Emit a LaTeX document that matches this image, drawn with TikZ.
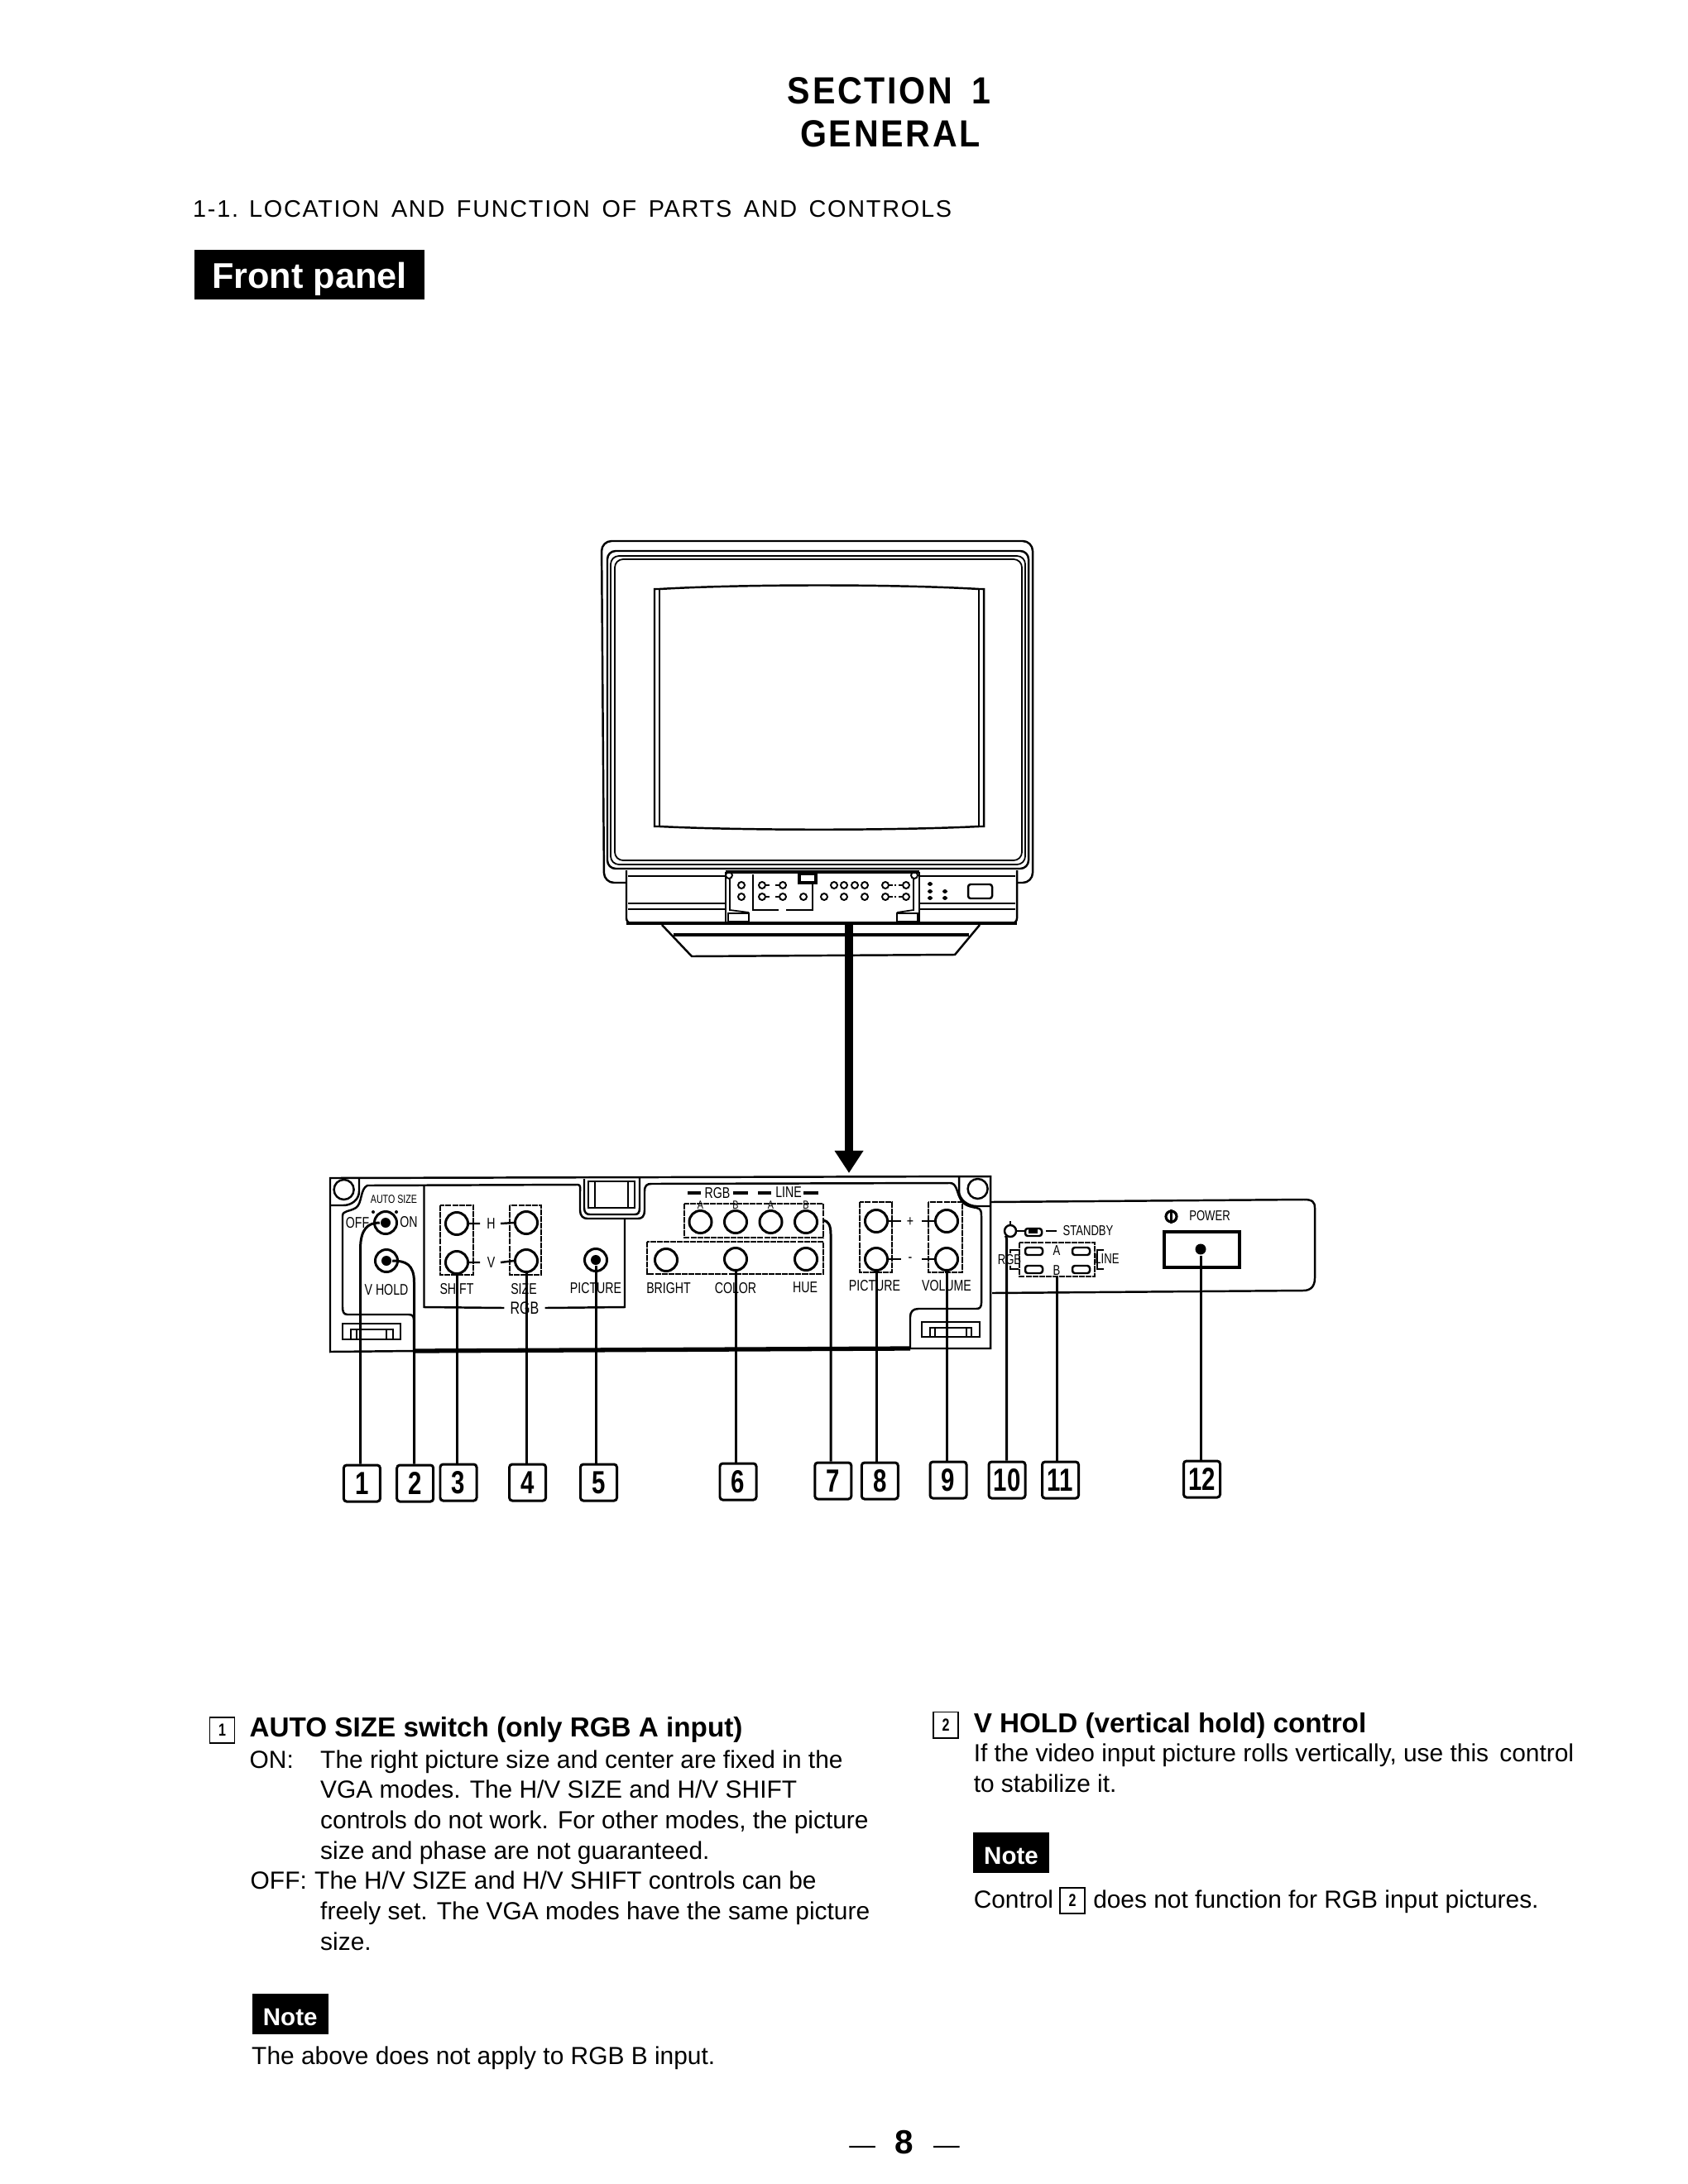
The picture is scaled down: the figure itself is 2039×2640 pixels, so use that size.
\documentclass[tikz,border=0pt]{standalone}
\usepackage{fontspec}
\setmainfont{Liberation Sans}
\newfontfamily\narrowfont[FakeStretch=0.76]{Liberation Sans}
\newfontfamily\spacedfont[LetterSpace=6]{Liberation Sans}
\newfontfamily\titlefont[FakeStretch=0.9, LetterSpace=6]{Liberation Sans}
\usetikzlibrary{arrows.meta}

\begin{document}
\begin{tikzpicture}[x=.01cm, y=-.01cm, line width=.7pt,
      every node/.style = {inner sep=0pt, align=center},
      knob/.style = {shape=circle, draw, line width=.85pt, minimum size=.27cm},
      minikn/.style = {shape=circle, draw, line width=.55pt, minimum size=.08cm},
      dotm/.style = {shape=circle, fill=black, minimum size=.12cm},
      label/.style = {font=\narrowfont\fontsize{5.3}{6}\selectfont},
      tinylabel/.style = {font=\narrowfont\fontsize{4}{5}\selectfont},
      numbox/.style = {shape=rectangle, draw, line width=.85pt, rounded corners=1pt, minimum width=.44cm,
        minimum height=.44cm, font=\narrowfont\bfseries\fontsize{11}{12}\selectfont},
      smallbox/.style = {shape=rectangle, draw, line width=.55pt, minimum width=.3cm,
        minimum height=.31cm, font=\narrowfont\bfseries\fontsize{6}{7}\selectfont},
      body/.style = {anchor=base west, font=\fontsize{8.5}{10}\selectfont},
      heading/.style = {anchor=base west, font=\bfseries\fontsize{9.45}{11}\selectfont},
      notebox/.style = {shape=rectangle, fill=black, text=white, minimum width=.92cm, minimum height=.49cm,
        text height=.28cm, text depth=0pt, font=\bfseries\fontsize{8.4}{10}\selectfont},
      leader/.style = {line width=.85pt},
      dotbox/.style = {dash pattern=on 2pt off .3pt, line width=.8pt}]
    \path[use as bounding box] (0,0) rectangle (2039,2640);

    % page titles
    \node (section) at (1074.5,110) {\titlefont\bfseries\fontsize{13}{14}\selectfont SECTION\,\,\,1};
    \node (general) at (1076,162) {\titlefont\bfseries\fontsize{13}{14}\selectfont GENERAL};
    \node[anchor=base west] (location) at (232,263) {\spacedfont\fontsize{8.2}{10}\selectfont 1-1. LOCATION\, AND\, FUNCTION\, OF\, PARTS\, AND\, CONTROLS};
    \node[shape=rectangle, fill=black, text=white, minimum width=2.78cm, minimum height=.6cm,
      text height=.32cm, text depth=0pt, font=\bfseries\fontsize{12.3}{14}\selectfont] (front) at (374,332) {Front panel};

    % monitor
    \draw[rounded corners=1.2mm] (757,1067) -- (730,1067) -- (727,654) -- (1248,654) -- (1248,1067) -- (1229,1067);
    \draw[rounded corners=1mm] (734,666) rectangle (1243,1050);
    \draw[rounded corners=1mm, line width=.5pt] (738,672) rectangle (1239,1045);
    \draw[rounded corners=1mm, line width=.5pt] (743,676) rectangle (1235,1040);
    \draw (797,712) .. controls (900,706) and (1080,706) .. (1183,712) -- (1189,712) -- (1189,999) -- (1183,999)
      .. controls (1080,1004) and (900,1004) .. (797,999) -- (791,999) -- (791,712) -- cycle;
    \draw (797,712) -- (797,999);
    \draw (1183,712) -- (1183,999);
    \draw[rounded corners=.6mm] (757,1052) -- (757,1116) -- (1229,1116) -- (1229,1052);
    \draw[line width=.5pt] (759,1059) -- (877,1059) (759,1092) -- (877,1092) (759,1099) -- (877,1099);
    \draw[line width=.5pt] (1111,1059) -- (1227,1059) (1111,1092) -- (1227,1092) (1111,1099) -- (1227,1099);
    \draw[line width=1.1pt] (877,1054) -- (1111,1054);
    \draw[line width=1.1pt] (757,1116) -- (1229,1116);
    \draw (877,1054) -- (877,1116) (1111,1054) -- (1111,1116);
    \draw[line width=.5pt] (882,1062) -- (882,1100) -- (905,1103);
    \draw[line width=.5pt] (1104,1062) -- (1104,1100) -- (1084,1103);
    \draw[line width=.5pt] (910,1057) -- (910,1100) -- (941,1100) (950,1100) -- (982,1100) -- (982,1067);
    \draw[line width=.9pt, fill=white] (966,1056) rectangle (986,1067);
    \draw[line width=.5pt] (880,1104) rectangle (905,1114);
    \draw[line width=.5pt] (1084,1104) rectangle (1109,1114);
    \node[minikn] (minitl) at (881,1058) {};
    \node[minikn] (minitr) at (1105,1058) {};
    \node[minikn] (mini1) at (896,1070) {};
    \node[minikn] (mini2) at (921,1070) {};
    \node[minikn] (mini3) at (946,1070) {};
    \node[minikn] (mini4) at (1008,1070) {};
    \node[minikn] (mini5) at (1020,1070) {};
    \node[minikn] (mini6) at (1033,1070) {};
    \node[minikn] (mini7) at (1045,1070) {};
    \node[minikn] (mini8) at (1070,1070) {};
    \node[minikn] (mini9) at (1095,1070) {};
    \node[minikn] (mini10) at (896,1084) {};
    \node[minikn] (mini11) at (921,1084) {};
    \node[minikn] (mini12) at (946,1084) {};
    \node[minikn] (mini13) at (971,1084) {};
    \node[minikn] (mini14) at (996,1084) {};
    \node[minikn] (mini15) at (1020,1084) {};
    \node[minikn] (mini16) at (1045,1084) {};
    \node[minikn] (mini17) at (1070,1084) {};
    \node[minikn] (mini18) at (1095,1084) {};
    \draw (mini2.east) -- ++(4,0) (mini3.west) -- ++(-4,0);
    \draw (mini11.east) -- ++(4,0) (mini12.west) -- ++(-4,0);
    \draw (mini8.east) -- ++(4,0) (mini9.west) -- ++(-4,0) (1081,1070) -- (1083,1070);
    \draw (mini17.east) -- ++(4,0) (mini18.west) -- ++(-4,0) (1081,1084) -- (1083,1084);
    \fill[rounded corners=.3mm] (1121,1066) rectangle (1127,1071) (1121,1075) rectangle (1127,1080) (1121,1083) rectangle (1127,1088);
    \fill[rounded corners=.3mm] (1139,1075) rectangle (1145,1080) (1139,1083) rectangle (1145,1088);
    \draw[rounded corners=.3mm] (1170,1069) rectangle (1199,1086);
    \draw (800,1118) -- (836,1156) -- (1154,1154) -- (1184,1118);
    \draw[line width=.5pt] (814,1129) -- (1171,1129) (814,1131) -- (1171,1131);

    % arrow from the monitor down to the panel
    \coordinate (monitor) at (1026,1116);
    \coordinate (arrowend) at (1026,1418);
    \draw[line width=3pt, -{Triangle[length=.27cm, width=.33cm]}] (monitor) -- (arrowend);

    % front panel outline
    \draw (500,1633) -- (399,1634) -- (399,1424) -- (1197,1422) -- (1197,1630) -- (1100,1630);
    \draw[line width=1.5pt] (500,1633) -- (1100,1630);
    \draw (434,1424) -- (434,1440) .. controls (434,1450) and (425,1457) .. (415,1457) -- (399,1457);
    \draw (1159,1422) -- (1159,1440) .. controls (1159,1450) and (1170,1458) .. (1180,1458) -- (1197,1458);
    \node[shape=circle, draw, minimum size=.24cm] (cornerl) at (415.6,1438) {};
    \node[shape=circle, draw, minimum size=.24cm] (cornerr) at (1181.6,1437) {};
    \draw (500,1633) -- (500,1595) .. controls (500,1591) and (498,1589) .. (494,1589) -- (420,1589)
      .. controls (415,1589) and (414,1585) .. (414,1580) -- (414,1470) .. controls (414,1463) and (422,1465) .. (430,1460)
      .. controls (438,1455) and (435,1437) .. (444,1433) -- (698,1432)
      .. controls (702,1432) and (701,1436) .. (701,1440) -- (701,1463) .. controls (701,1470) and (705,1473) .. (710,1473)
      -- (771,1473) .. controls (776,1473) and (779,1470) .. (779,1463) -- (779,1440) .. controls (779,1433) and (782,1431) .. (787,1431)
      -- (1148,1430) .. controls (1156,1430) and (1156,1440) .. (1160,1448) .. controls (1164,1458) and (1175,1459) .. (1180,1460)
      .. controls (1186,1461) and (1186,1465) .. (1186,1470) -- (1186,1575) .. controls (1186,1580) and (1184,1582) .. (1180,1582)
      -- (1110,1582) .. controls (1103,1582) and (1100,1586) .. (1100,1592) -- (1100,1630);
    \draw (706,1425) -- (706,1460) .. controls (706,1466) and (709,1468) .. (713,1468) -- (767,1468)
      .. controls (771,1468) and (773,1466) .. (773,1460) -- (773,1424);
    \draw (711,1428) rectangle (767,1460);
    \draw (719,1428) -- (719,1460) (759,1428) -- (759,1460);
    \draw (414,1600) rectangle (484,1619);
    \draw (424,1619) -- (424,1607) -- (475,1607) -- (475,1619) (431,1607) -- (431,1619) (467,1607) -- (467,1619);
    \draw (1114,1598) rectangle (1184,1616);
    \draw (1124,1616) -- (1124,1605) -- (1174,1605) -- (1174,1616) (1130,1605) -- (1130,1616) (1168,1605) -- (1168,1616);

    % RGB group frame
    \node[label, font=\narrowfont\fontsize{6}{7}\selectfont] (rgbframe) at (634,1581) {RGB};
    \draw (rgbframe.west) ++(-6,0) -- (512.5,1580) -- (512.5,1433);
    \draw (rgbframe.east) ++(6,0) -- (755,1580) -- (755,1473);

    % left controls
    \node[tinylabel] (autosize) at (476,1450) {AUTO SIZE};
    \node[label] (off) at (432,1478) {OFF};
    \node[label] (on) at (494,1477) {ON};
    \node[knob] (autoknob) at (466,1478) {};
    \node[dotm] (autodot) at (466,1478) {};
    \node[shape=circle, fill=black, minimum size=.04cm] (autol) at (451,1465) {};
    \node[shape=circle, fill=black, minimum size=.04cm] (autor) at (479,1465) {};
    \node[knob] (vholdknob) at (467,1524) {};
    \node[dotm] (vholddot) at (467,1524) {};
    \node[label] (vhold) at (467,1559) {V HOLD};

    % shift and size
    \draw[dotbox] (532,1457) rectangle (572,1541);
    \draw[dotbox] (616,1457) rectangle (654,1541);
    \node[knob] (shifth) at (552,1479) {};
    \node[knob] (shiftv) at (552,1526) {};
    \node[knob] (sizeh) at (636,1478) {};
    \node[knob] (sizev) at (636,1524) {};
    \node[label] (hlabel) at (593.5,1479) {H};
    \node[label] (vlabel) at (593.5,1526) {V};
    \draw (shifth.east) -- (hlabel.west -| 580,0) (hlabel.east -| 605,0) -- (sizeh.west);
    \draw (shiftv.east) -- (vlabel.west -| 580,0) (vlabel.east -| 605,0) -- (sizev.west);
    \node[label] (shift) at (552,1558) {SHIFT};
    \node[label] (size) at (633,1558) {SIZE};
    \node[knob] (rgbpic) at (720,1523) {};
    \node[dotm] (rgbpicdot) at (720,1523) {};
    \node[label] (rgbpiclabel) at (720,1557) {PICTURE};

    % input buttons
    \node[label] (rgbtop) at (867,1442) {RGB};
    \node[label] (linetop) at (953,1441) {LINE};
    \draw[line width=1.2pt] (831,1442) -- (847,1442) (886,1442) -- (904,1442) (916,1442) -- (932,1442) (971,1442) -- (989,1442);
    \draw[dotbox] (827,1455) rectangle (995,1496);
    \node[knob] (rgba) at (846.5,1477) {};
    \node[knob] (rgbb) at (889,1477) {};
    \node[knob] (linea) at (931.5,1477) {};
    \node[knob] (lineb) at (974,1477) {};
    \node[tinylabel] (rgbalabel) at (846.5,1457) {A};
    \node[tinylabel] (rgbblabel) at (889,1457) {B};
    \node[tinylabel] (linealabel) at (931.5,1457) {A};
    \node[tinylabel] (lineblabel) at (974,1457) {B};

    % picture adjustments
    \draw[dotbox] (782,1501) rectangle (995,1540);
    \node[knob] (bright) at (805,1523) {};
    \node[knob] (color) at (889,1522) {};
    \node[knob] (hue) at (974,1522) {};
    \node[label] (brightlabel) at (808,1557) {BRIGHT};
    \node[label] (colorlabel) at (889,1557) {COLOR};
    \node[label] (huelabel) at (973,1556) {HUE};

    % picture and volume
    \draw[dotbox] (1039,1453) rectangle (1078,1538);
    \draw[dotbox] (1122,1453) rectangle (1163,1538);
    \node[knob] (pictp) at (1059,1476) {};
    \node[knob] (pictm) at (1059,1522) {};
    \node[knob] (volp) at (1144,1476) {};
    \node[knob] (volm) at (1144,1522) {};
    \node[label] (plus) at (1100,1477) {+};
    \node[label] (minus) at (1100,1523) {-};
    \draw (pictp.east) -- ++(15,0) (volp.west) -- ++(-15,0);
    \draw (pictm.east) -- ++(15,0) (volm.west) -- ++(-15,0);
    \node[label] (pictlabel) at (1057,1554) {PICTURE};
    \node[label] (vollabel) at (1144,1554) {VOLUME};

    % right side of the panel
    \draw (1197,1453) -- (1576,1450) .. controls (1586,1450) and (1589,1453) .. (1589,1460) -- (1589,1545)
      .. controls (1589,1555) and (1584,1560) .. (1575,1560) -- (1199,1563);
    \node[shape=circle, draw, minimum size=.14cm] (stby) at (1221,1488) {};
    \draw (stby.north) -- ++(0,-4);
    \draw[rounded corners=.3mm] (1239,1485) rectangle (1259,1494);
    \fill (1243,1486) rectangle (1254,1491);
    \draw (stby.east) -- (1239,1488);
    \draw (1264,1488) -- (1277,1488);
    \node[tinylabel, font=\narrowfont\fontsize{4.9}{6}\selectfont] (standby) at (1315,1488) {STANDBY};
    \draw[dotbox] (1232,1502) rectangle (1323,1543);
    \draw[rounded corners=.3mm] (1239,1508) rectangle (1260,1517) (1296,1508) rectangle (1317,1517);
    \draw[rounded corners=.3mm] (1239,1530) rectangle (1260,1539) (1296,1530) rectangle (1317,1539);
    \node[tinylabel, font=\narrowfont\fontsize{4.9}{6}\selectfont] (sela) at (1277,1512) {A};
    \node[tinylabel, font=\narrowfont\fontsize{4.9}{6}\selectfont] (selb) at (1277,1536) {B};
    \node[tinylabel, font=\narrowfont\fontsize{4.9}{6}\selectfont] (selrgb) at (1220,1523) {RGB};
    \node[tinylabel, font=\narrowfont\fontsize{4.9}{6}\selectfont] (selline) at (1338,1522) {LINE};
    \draw[line width=.5pt] (1231,1511) -- (1221,1511) -- (1221,1515) (1221,1530) -- (1221,1534) -- (1231,1534);
    \draw[line width=.5pt] (1325,1511) -- (1334,1511) (1326,1511) -- (1326,1534) (1325,1534) -- (1334,1534);
    \node[shape=circle, draw, line width=.9pt, minimum size=.13cm] (powersym) at (1415.5,1470.5) {};
    \draw[line width=.9pt] (powersym.north) -- (powersym.south);
    \node[tinylabel, font=\narrowfont\fontsize{4.9}{6}\selectfont] (power) at (1462,1470) {POWER};
    \draw[line width=.9pt] (1407,1489) rectangle (1498,1532);
    \node[dotm, minimum size=.13cm] (powerdot) at (1451,1510) {};

    % number boxes
    \node[numbox] (n1) at (437.4,1793) {1};
    \node[numbox] (n2) at (501.7,1793) {2};
    \node[numbox] (n3) at (554,1792) {3};
    \node[numbox] (n4) at (637.6,1792) {4};
    \node[numbox] (n5) at (723.5,1792) {5};
    \node[numbox] (n6) at (892,1791) {6};
    \node[numbox] (n7) at (1006.8,1790) {7};
    \node[numbox] (n8) at (1063.3,1790) {8};
    \node[numbox] (n9) at (1146,1789) {9};
    \node[numbox] (n10) at (1217,1789) {10};
    \node[numbox] (n11) at (1281.5,1789) {11};
    \node[numbox] (n12) at (1452.5,1788) {12};

    % leader lines
    \coordinate (bend1) at (435.5,1510);
    \coordinate (bend2) at (500.5,1550);
    \coordinate (bend7) at (1004,1492);
    \coordinate (bend10) at (1216.5,1505);
    \draw[leader] (autodot) .. controls (445,1478) and (435.5,1485) .. (bend1) -- (bend1 |- n1.north);
    \draw[leader] (vholddot) .. controls (490,1524) and (500.5,1528) .. (bend2) -- (bend2 |- n2.north);
    \draw[leader] (shiftv.south) -- (shiftv.south |- n3.north);
    \draw[leader] (sizev.south) -- (sizev.south |- n4.north);
    \draw[leader] (rgbpicdot) -- (rgbpicdot |- n5.north);
    \draw[leader] (color.south) -- (color.south |- n6.north);
    \draw[leader] (995,1475) .. controls (1001,1476) and (1004,1481) .. (bend7) -- (bend7 |- n7.north);
    \draw[leader] (pictm.south) -- (pictm.south |- n8.north);
    \draw[leader] (volm.south) -- (volm.south |- n9.north);
    \draw[leader] (stby.south west) .. controls (1217,1496) and (1216.5,1499) .. (bend10) -- (bend10 |- n10.north);
    \draw[leader] (selb.south) -- (selb.south |- n11.north);
    \draw[leader] (powerdot) -- (powerdot |- n12.north);

    % left column
    \node[smallbox] (item1) at (268.5,2091.5) {1};
    \node[heading] (autohead) at (300.5,2099.5) {AUTO SIZE switch (only RGB A input)};
    \node[body] (on1) at (300.5,2137) {ON:};
    \node[body] (on2) at (386,2137) {The right picture size and center are fixed in the};
    \node[body] (on3) at (386,2173.5) {VGA modes. The H/V SIZE and H/V SHIFT};
    \node[body] (on4) at (386,2210) {controls do not work. For other modes, the picture};
    \node[body] (on5) at (386,2247.5) {size and phase are not guaranteed.};
    \node[body] (off1) at (301.5,2283) {OFF:};
    \node[body] (off2) at (379,2283) {The H/V SIZE and H/V SHIFT controls can be};
    \node[body] (off3) at (386,2320) {freely set. The VGA modes have the same picture};
    \node[body] (off4) at (386,2357.5) {size.};
    \node[notebox] (note1) at (350.7,2434) {Note};
    \node[body] (notetext1) at (303,2495.5) {The above does not apply to RGB B input.};

    % right column
    \node[smallbox] (item2) at (1143,2085) {2};
    \node[heading] (vholdhead) at (1175.5,2094) {V HOLD (vertical hold) control};
    \node[body] (vh1) at (1175.5,2129.5) {If the video input picture rolls vertically, use this\, control};
    \node[body] (vh2) at (1175.5,2166) {to stabilize it.};
    \node[notebox] (note2) at (1222,2239.5) {Note};
    \node[body] (ctrl) at (1175.5,2306) {Control};
    \node[smallbox] (item2b) at (1296,2297.5) {2};
    \node[body] (ctrl2) at (1320,2306) {does not function for RGB input pictures.};

    % page number
    \node[font=\fontsize{9}{10}\selectfont] (pagenum) at (1093,2590) {—\hspace{.75em}{\bfseries\fontsize{11.5}{12}\selectfont 8}\hspace{.75em}—};
\end{tikzpicture}
\end{document}
